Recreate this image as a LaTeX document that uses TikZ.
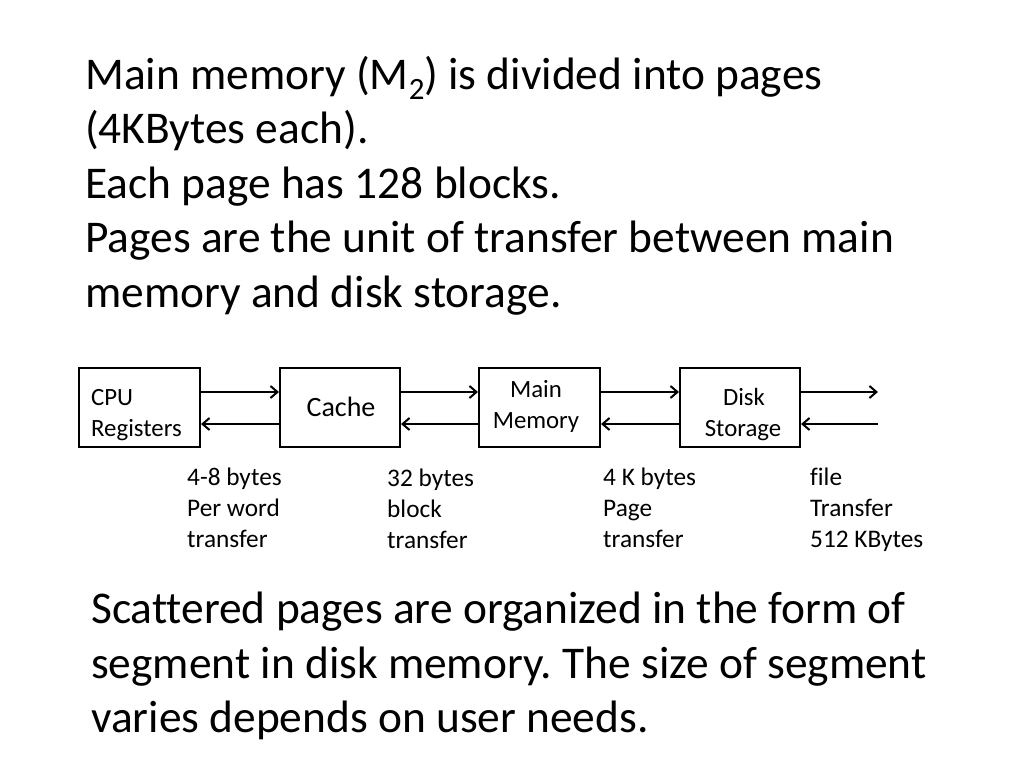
\documentclass[tikz,border=0pt]{standalone}
\usepackage{fontspec}
\setmainfont{Carlito}[Ligatures=NoCommon]
\usetikzlibrary{arrows.meta}
\frenchspacing
\begin{document}
\begin{tikzpicture}[x=1pt,y=-1pt,
  box/.style={draw,line width=2pt,inner sep=0pt},
  conn/.style={line width=2pt,-{Straight Barb[length=7pt,width=12pt,line width=2pt]}},
  big/.style={anchor=base west,inner sep=0pt,font=\fontsize{45.4}{54}\selectfont},
  lab/.style={anchor=base west,inner sep=0pt,font=\fontsize{25.3}{30}\selectfont},
  bt/.style={anchor=base,inner sep=0pt,font=\fontsize{24.8}{30}\selectfont}]
\useasboundingbox (0,0) rectangle (1024,768);
% title text
\node[big] (t1) at (85,89) {Main memory (M\raisebox{-10pt}{\fontsize{31}{31}\selectfont 2}) is divided into pages};
\node[big] (t2) at (85,143) {(4KBytes each).};
\node[big] (t3) at (85,198) {Each page has 128 blocks.};
\node[big] (t4) at (85,252) {Pages are the unit of transfer between main};
\node[big] (t5) at (85,307) {memory and disk storage.};
% boxes
\node[box,minimum width=121pt,minimum height=79pt] (cpu) at (139.5,407.5) {};
\node[box,minimum width=120pt,minimum height=79pt] (cache) at (340,407.5) {};
\node[box,minimum width=121pt,minimum height=79pt] (mm) at (539.5,407.5) {};
\node[box,minimum width=120pt,minimum height=79pt] (disk) at (740,407.5) {};
\node[lab,font=\fontsize{24.8}{30}\selectfont] (cpu1) at (91,405) {CPU};
\node[lab,font=\fontsize{24.8}{30}\selectfont] (cpu2) at (91,436) {Registers};
\node[bt,font=\fontsize{28}{33}\selectfont] (ca) at (341,416) {Cache};
\node[bt] (mm1) at (536,397) {Main};
\node[bt] (mm2) at (536,428) {Memory};
\node[bt] (d1) at (744,405) {Disk};
\node[bt] (d2) at (743,436) {Storage};
% connectors
\coordinate (o1) at (878,392);
\coordinate (o2) at (878,424);
\draw[conn] (cpu.east |- 0,392) -- (cache.west |- 0,392);
\draw[conn] (cache.west |- 0,424) -- (cpu.east |- 0,424);
\draw[conn] (cache.east |- 0,392) -- (mm.west |- 0,392);
\draw[conn] (mm.west |- 0,424) -- (cache.east |- 0,424);
\draw[conn] (mm.east |- 0,392) -- (disk.west |- 0,392);
\draw[conn] (disk.west |- 0,424) -- (mm.east |- 0,424);
\draw[conn] (disk.east |- o1) -- (o1);
\draw[conn] (o2) -- (disk.east |- o2);
% transfer labels
\node[lab] (a1) at (187,485) {4-8 bytes};
\node[lab] (a2) at (187,516) {Per word};
\node[lab] (a3) at (187,547) {transfer};
\node[lab] (b1) at (387,486) {32 bytes};
\node[lab] (b2) at (387,517) {block};
\node[lab] (b3) at (387,548) {transfer};
\node[lab] (c1) at (603,485) {4 K bytes};
\node[lab] (c2) at (603,516) {Page};
\node[lab] (c3) at (603,547) {transfer};
\node[lab] (e1) at (810,485) {file};
\node[lab] (e2) at (810,516) {Transfer};
\node[lab] (e3) at (810,547) {512 KBytes};
% bottom text
\node[big] (s1) at (91,623) {Scattered pages are organized in the form of};
\node[big] (s2) at (91,678) {segment in disk memory. The size of segment};
\node[big] (s3) at (91,732) {varies depends on user needs.};
\end{tikzpicture}
\end{document}
